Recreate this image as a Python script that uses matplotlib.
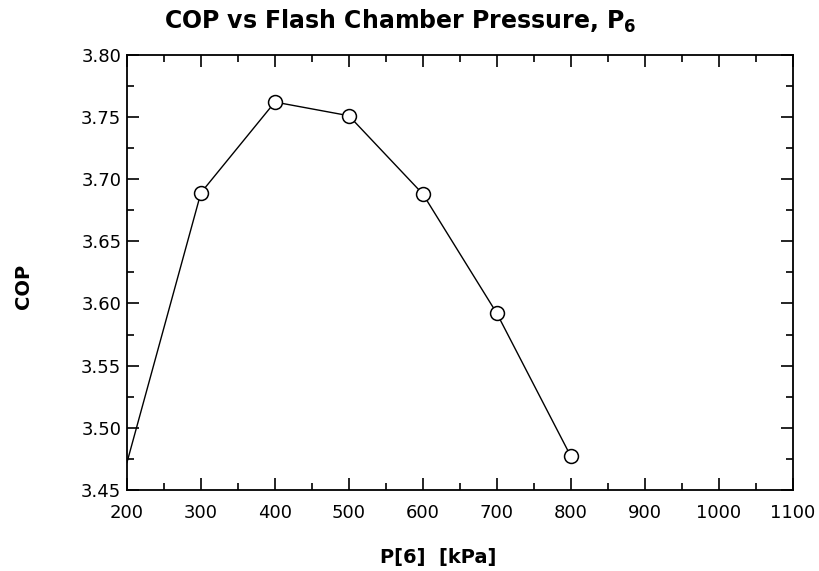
import matplotlib
matplotlib.use('Agg')
import matplotlib.pyplot as plt
from matplotlib.ticker import MultipleLocator, FormatStrFormatter

# P[6] in kPa and the resulting COP
pressure = [200, 300, 400, 500, 600, 700, 800]
cop = [3.472, 3.689, 3.762, 3.751, 3.688, 3.592, 3.477]

plt.rcParams['font.family'] = ['DejaVu Sans']

fig = plt.figure(figsize=(8.19, 5.71), dpi=100)
ax = fig.add_axes([0.155, 0.142, 0.813, 0.762])

# line through all points, circles only where the original shows them (200 sits on the frame)
ax.plot(pressure, cop, color='black', linewidth=1.0)
ax.plot(pressure[1:], cop[1:], linestyle='none', marker='o', markersize=10,
        markerfacecolor='white', markeredgecolor='black', markeredgewidth=1.1)

ax.set_xlim(200, 1100)
ax.set_ylim(3.45, 3.80)
ax.xaxis.set_major_locator(MultipleLocator(100))
ax.xaxis.set_minor_locator(MultipleLocator(50))
ax.yaxis.set_major_locator(MultipleLocator(0.05))
ax.yaxis.set_minor_locator(MultipleLocator(0.025))
ax.yaxis.set_major_formatter(FormatStrFormatter('%.2f'))

ax.tick_params(which='both', direction='in', top=True, right=True, width=1.2, labelsize=13)
ax.tick_params(which='major', length=8.5)
ax.tick_params(which='minor', length=5)
ax.tick_params(axis='x', pad=10)
ax.tick_params(axis='y', pad=4)
for s in ax.spines.values():
    s.set_linewidth(1.3)

fig.text(438 / 819, 1 - 557 / 571, 'P[6]  [kPa]', ha='center', va='center',
         fontsize=14, fontweight='bold')
fig.text(23 / 819, 1 - 286 / 571, 'COP', ha='center', va='center', rotation=90,
         fontsize=14, fontweight='bold')
fig.text(400 / 819, 1 - 29 / 571, 'COP vs Flash Chamber Pressure, P$_\\mathbf{6}$',
         ha='center', va='baseline', fontsize=17, fontweight='bold')

fig.savefig('out.png', dpi=100)
